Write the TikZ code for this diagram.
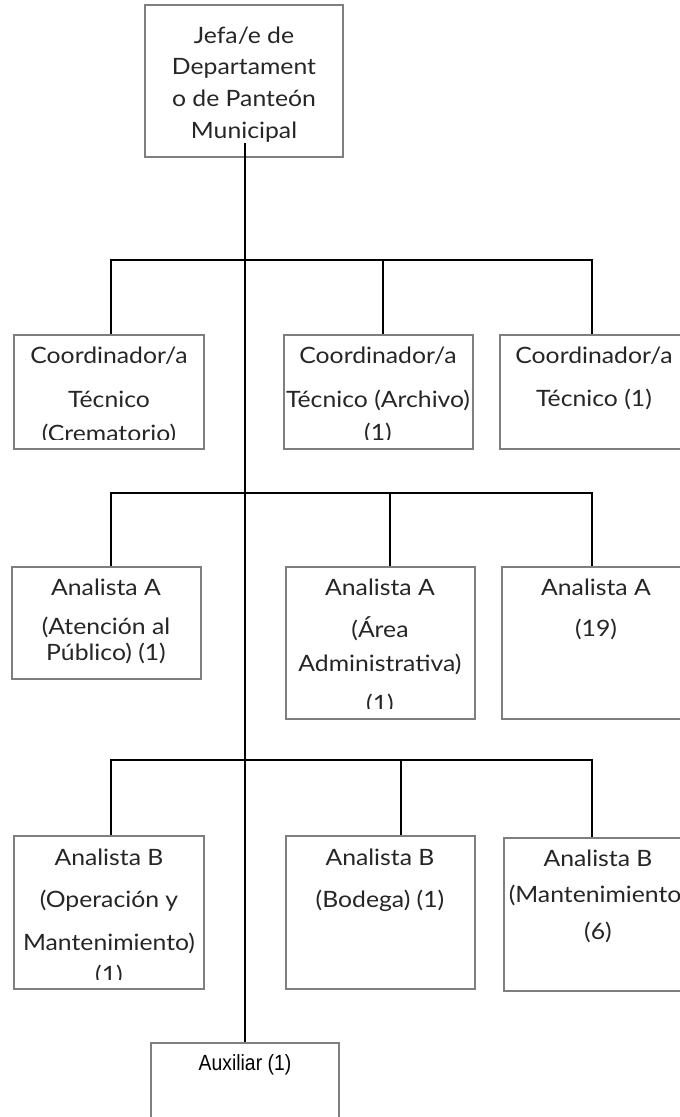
\documentclass[tikz,border=0pt]{standalone}
\usepackage{fontspec}
\setmainfont[FakeStretch=1.1]{Lato}
\newfontfamily\arialfont[FakeStretch=0.88]{Liberation Sans}
\definecolor{boxgray}{HTML}{7F7F7F}
\definecolor{txtcol}{HTML}{262626}
\tikzset{
  box/.style={draw=boxgray, line width=2pt, fill=white, inner sep=0pt},
  conn/.style={draw=black, line width=1.3pt},
  trunk/.style={draw=black, line width=2pt},
  txt/.style={anchor=base, inner sep=0pt, text=txtcol, font=\fontsize{22.5}{26}\selectfont},
  auxtxt/.style={anchor=base, inner sep=0pt, text=black, font=\arialfont\fontsize{22}{25}\selectfont}
}
\newcommand\tl[3]{\node[txt] at (#1,#2) {#3};}
\begin{document}
\begin{tikzpicture}[x=1pt,y=-1pt]
\useasboundingbox (0,0) rectangle (680,1117);
\clip (0,0) rectangle (680,1117);
% boxes
\node[box, minimum width=198pt, minimum height=152pt] (j) at (244,81) {};
\node[box, minimum width=190pt, minimum height=114pt] (c1) at (109,392) {};
\node[box, minimum width=189pt, minimum height=114pt] (c2) at (378.5,392) {};
\node[box, minimum width=188pt, minimum height=114pt] (c3) at (594,392) {};
\node[box, minimum width=189pt, minimum height=112pt] (a1) at (106.5,623) {};
\node[box, minimum width=189pt, minimum height=152pt] (a2) at (380.5,643) {};
\node[box, minimum width=188pt, minimum height=152pt] (a3) at (596,643) {};
\node[box, minimum width=190pt, minimum height=153pt] (b1) at (109,912.5) {};
\node[box, minimum width=189pt, minimum height=153pt] (b2) at (380.5,912.5) {};
\node[box, minimum width=188pt, minimum height=153pt] (b3) at (598,914.5) {};
\node[box, minimum width=188pt, minimum height=97pt] (aux) at (245,1091.5) {};
% connectors
\coordinate (t0) at (245,143);
\coordinate (r1l) at (111,260); \coordinate (r1m) at (383,260); \coordinate (r1r) at (592,260);
\coordinate (r2l) at (111,493); \coordinate (r2m) at (390,493); \coordinate (r2r) at (592,493);
\coordinate (r3l) at (111,760); \coordinate (r3m) at (401,760); \coordinate (r3r) at (592,760);
\draw[conn] (r1l |- c1.north) -- (r1l) -- (r1r) -- (r1r |- c3.north);
\draw[conn] (r1m) -- (r1m |- c2.north);
\draw[conn] (r2l |- a1.north) -- (r2l) -- (r2r) -- (r2r |- a3.north);
\draw[conn] (r2m) -- (r2m |- a2.north);
\draw[conn] (r3l |- b1.north) -- (r3l) -- (r3r) -- (r3r |- b3.north);
\draw[conn] (r3m) -- (r3m |- b2.north);
% texts
\tl{244}{43}{Jefa/e de}
\tl{244}{74}{Departament}
\tl{244}{106}{o de Panteón}
\tl{244}{138}{Municipal}
\draw[trunk] (t0) -- (aux.north);
\begin{scope}
\clip (c1.north west) rectangle ([yshift=11pt]c1.south east);
\tl{109}{363}{Coordinador/a}
\tl{109}{407}{Técnico}
\tl{109}{441}{(Crematorio)}
\end{scope}
\begin{scope}
\clip (c2.north west) rectangle ([yshift=11pt]c2.south east);
\tl{378}{363}{Coordinador/a}
\tl{378}{407}{Técnico (Archivo)}
\tl{378}{440}{(1)}
\end{scope}
\tl{594}{363}{Coordinador/a}
\tl{594}{406}{Técnico (1)}
\tl{106}{595}{Analista A}
\tl{106}{634}{(Atención al}
\tl{106}{660}{Público) (1)}
\begin{scope}
\clip (a2.north west) rectangle ([yshift=12pt]a2.south east);
\tl{380}{595}{Analista A}
\tl{380}{637}{(Área}
\tl{380}{671}{Administrativa)}
\tl{380}{711}{(1)}
\end{scope}
\tl{596}{595}{Analista A}
\tl{596}{636}{(19)}
\begin{scope}
\clip (b1.north west) rectangle ([yshift=11pt]b1.south east);
\tl{109}{865}{Analista B}
\tl{109}{907}{(Operación y}
\tl{109}{950}{Mantenimiento)}
\tl{109}{982}{(1)}
\end{scope}
\tl{380}{865}{Analista B}
\tl{380}{907}{(Bodega) (1)}
\tl{598}{866}{Analista B}
\tl{598}{902}{(Mantenimiento)}
\tl{598}{939}{(6)}
\node[auxtxt] at (245,1070) {Auxiliar (1)};
\end{tikzpicture}
\end{document}
